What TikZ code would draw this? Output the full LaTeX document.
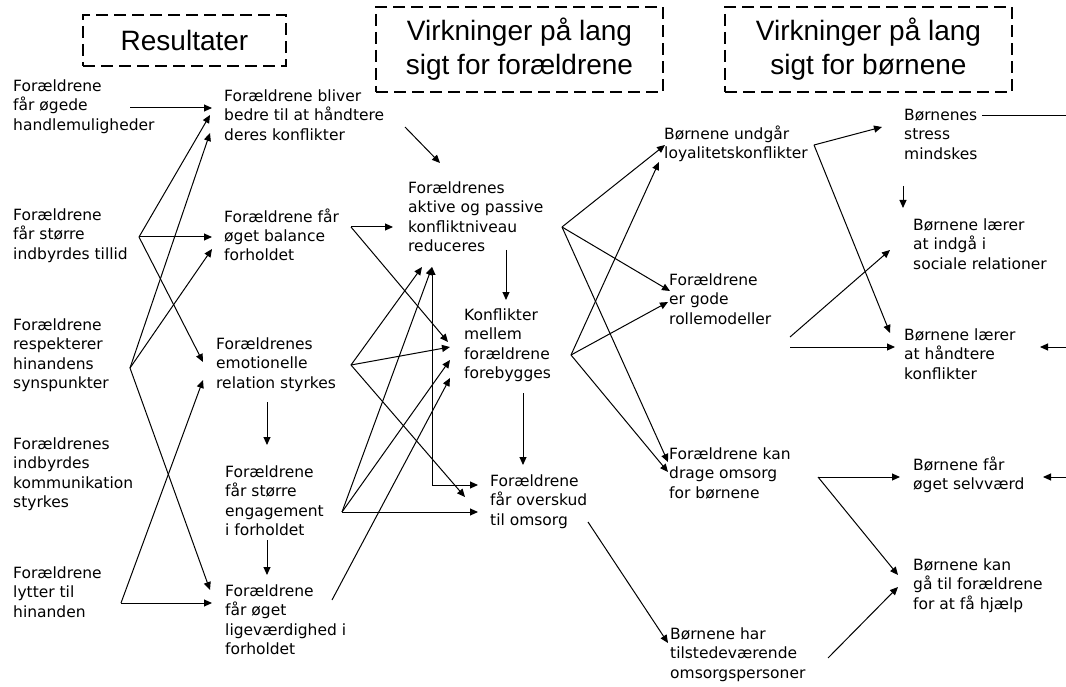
\documentclass[tikz,border=0pt]{standalone}
\usepackage{fontspec}
\newfontfamily\txtfamily{DejaVu Sans}
\newfontfamily\titlefamily{Liberation Sans}
\usetikzlibrary{arrows.meta}
\begin{document}
\begin{tikzpicture}[x=1pt,y=-1pt,
  txt/.style={anchor=north west,inner sep=0pt,align=left,font=\txtfamily\fontsize{15.5}{19.3}\selectfont,execute at begin node=\strut},
  tbox/.style={draw,line width=2pt,dash pattern=on 12pt off 6pt,font=\titlefamily\fontsize{28}{34}\selectfont,align=center,inner sep=0pt},
  arr/.style={line width=1pt,-{Triangle[length=8pt,width=7pt]}},
  darr/.style={line width=1pt,{Triangle[length=8pt,width=7pt]}-{Triangle[length=8pt,width=7pt]}},
  ln/.style={line width=1pt}]
\useasboundingbox (0,0) rectangle (1066,687);
% title boxes
\node[tbox,minimum width=203pt,minimum height=51pt] (t1) at (184.5,40.5) {Resultater};
\node[tbox,minimum width=287pt,minimum height=85pt] (t2) at (519.5,49.5) {Virkninger på lang\\sigt for forældrene};
\node[tbox,minimum width=287pt,minimum height=85pt] (t3) at (868.5,49.5) {Virkninger på lang\\sigt for børnene};
% column A
\node[txt] (a1) at (13,79.5) {Forældrene\\får øgede\\handlemuligheder};
\node[txt] (a2) at (13,208.5) {Forældrene\\får større\\indbyrdes tillid};
\node[txt] (a3) at (13,318.5) {Forældrene\\respekterer\\hinandens\\synspunkter};
\node[txt] (a4) at (13,437.5) {Forældrenes\\indbyrdes\\kommunikation\\styrkes};
\node[txt] (a5) at (13,566.5) {Forældrene\\lytter til\\hinanden};
% column B
\node[txt] (b1) at (224,89.5) {Forældrene bliver\\bedre til at håndtere\\deres konflikter};
\node[txt] (b2) at (224,208.5) {Forældrene får\\øget balance\\forholdet};
\node[txt] (b3) at (216,337.5) {Forældrenes\\emotionelle\\relation styrkes};
\node[txt] (b4) at (225,465.5) {Forældrene\\får større\\engagement\\i forholdet};
\node[txt] (b5) at (225,584.5) {Forældrene\\får øget\\ligeværdighed i\\forholdet};
% column C
\node[txt] (c1) at (408,181.5) {Forældrenes\\aktive og passive\\konfliktniveau\\reduceres};
\node[txt] (c2) at (464,308.5) {Konflikter\\mellem\\forældrene\\forebygges};
\node[txt] (c3) at (490,474.5) {Forældrene\\får overskud\\til omsorg};
% column D
\node[txt] (d1) at (664,125.5) {Børnene undgår\\loyalitetskonflikter};
\node[txt] (d2) at (669,273.5) {Forældrene\\er gode\\rollemodeller};
\node[txt] (d3) at (669,447.5) {Forældrene kan\\drage omsorg\\for børnene};
\node[txt] (d4) at (670,627.5) {Børnene har\\tilstedeværende\\omsorgspersoner};
% column E
\node[txt] (e1) at (904,109) {Børnenes\\stress\\mindskes};
\node[txt] (e2) at (913,218.5) {Børnene lærer\\at indgå i\\sociale relationer};
\node[txt] (e3) at (904,328.5) {Børnene lærer\\at håndtere\\konflikter};
\node[txt] (e4) at (913,456.5) {Børnene får\\øget selvværd};
\node[txt] (e5) at (913,558.5) {Børnene kan\\gå til forældrene\\for at få hjælp};
% connector points
\coordinate (a1o) at (130,108);
\coordinate (a2o) at (139,237);
\coordinate (a3o) at (130,368);
\coordinate (a5o) at (121,603);
\coordinate (b1i1) at (212,108);
\coordinate (b1i2) at (210,115);
\coordinate (b1i3) at (210,133);
\coordinate (b2i1) at (212,237);
\coordinate (b2i2) at (212,249);
\coordinate (b3i1) at (203,362);
\coordinate (b3i2) at (203,380);
\coordinate (b5i1) at (210,590);
\coordinate (b5i2) at (212,603);
\coordinate (b3s) at (267,402);
\coordinate (b4n) at (267,445);
\coordinate (b4s) at (267,540);
\coordinate (b5n) at (267,575);
\coordinate (b1o) at (405,127);
\coordinate (b2o) at (351,227);
\coordinate (b3o) at (351,365);
\coordinate (b4o) at (342,512);
\coordinate (b5o) at (332,600);
\coordinate (c1i1) at (440,163);
\coordinate (c1i2) at (393,227);
\coordinate (c1i3) at (422,267);
\coordinate (c1i4) at (432,267);
\coordinate (c2i1) at (448,342);
\coordinate (c2i2) at (450,347);
\coordinate (c2i3) at (450,360);
\coordinate (c2i4) at (450,378);
\coordinate (c3i1) at (478,485);
\coordinate (c3i2) at (465,497);
\coordinate (c3i3) at (478,512);
\coordinate (cbend) at (432,485);
\coordinate (c1s) at (506,250);
\coordinate (c2n) at (506,300);
\coordinate (c2s) at (523,393);
\coordinate (c3n) at (523,465);
\coordinate (c1o) at (562,227);
\coordinate (c2o) at (571,355);
\coordinate (c3o) at (588,522);
\coordinate (d1i1) at (665,145);
\coordinate (d1i2) at (659,162);
\coordinate (d2i1) at (670,291);
\coordinate (d2i2) at (668,302);
\coordinate (d3i1) at (668,462);
\coordinate (d3i2) at (668,472);
\coordinate (d4i) at (668,643);
\coordinate (d1o) at (814,145);
\coordinate (d2o1) at (790,337);
\coordinate (d2o2) at (790,347);
\coordinate (d3o) at (818,477);
\coordinate (d4o) at (828,658);
\coordinate (e1i) at (882,127);
\coordinate (e1o) at (982,116);
\coordinate (e1s) at (903,186);
\coordinate (e2n) at (903,208);
\coordinate (e2i) at (890,250);
\coordinate (e3i1) at (890,333);
\coordinate (e3i2) at (895,347);
\coordinate (e3i3) at (1040,347);
\coordinate (e4i1) at (900,477);
\coordinate (e4i2) at (1043,477);
\coordinate (e5i1) at (898,575);
\coordinate (e5i2) at (898,587);
\coordinate (r1) at (1066,116);
\coordinate (r2) at (1066,347);
\coordinate (r3) at (1066,477);
% A -> B
\draw[arr] (a1o) -- (b1i1);
\draw[arr] (a2o) -- (b1i2);
\draw[arr] (a2o) -- (b2i1);
\draw[arr] (a2o) -- (b3i1);
\draw[arr] (a3o) -- (b1i3);
\draw[arr] (a3o) -- (b2i2);
\draw[arr] (a3o) -- (b5i1);
\draw[arr] (a5o) -- (b5i2);
\draw[arr] (a5o) -- (b3i2);
\draw[arr] (b3s) -- (b4n);
\draw[arr] (b4s) -- (b5n);
% B -> C
\draw[arr] (b1o) -- (c1i1);
\draw[arr] (b2o) -- (c1i2);
\draw[arr] (b2o) -- (c2i1);
\draw[arr] (b3o) -- (c1i3);
\draw[arr] (b3o) -- (c2i2);
\draw[arr] (b3o) -- (c3i2);
\draw[arr] (b4o) -- (c1i4);
\draw[arr] (b4o) -- (c2i3);
\draw[arr] (b4o) -- (c3i3);
\draw[arr] (b5o) -- (c2i4);
\draw[darr] (c1i4) -- (cbend) -- (c3i1);
\draw[arr] (c1s) -- (c2n);
\draw[arr] (c2s) -- (c3n);
% C -> D
\draw[arr] (c1o) -- (d1i1);
\draw[arr] (c1o) -- (d2i1);
\draw[arr] (c1o) -- (d3i1);
\draw[arr] (c2o) -- (d1i2);
\draw[arr] (c2o) -- (d2i2);
\draw[arr] (c2o) -- (d3i2);
\draw[arr] (c3o) -- (d4i);
% D -> E
\draw[arr] (d1o) -- (e1i);
\draw[arr] (d1o) -- (e3i1);
\draw[ln] (e1o) -- (r1);
\draw[arr] (e1s) -- (e2n);
\draw[arr] (d2o1) -- (e2i);
\draw[arr] (d2o2) -- (e3i2);
\draw[arr] (r2) -- (e3i3);
\draw[arr] (d3o) -- (e4i1);
\draw[arr] (d3o) -- (e5i1);
\draw[arr] (r3) -- (e4i2);
\draw[arr] (d4o) -- (e5i2);
\end{tikzpicture}
\end{document}
